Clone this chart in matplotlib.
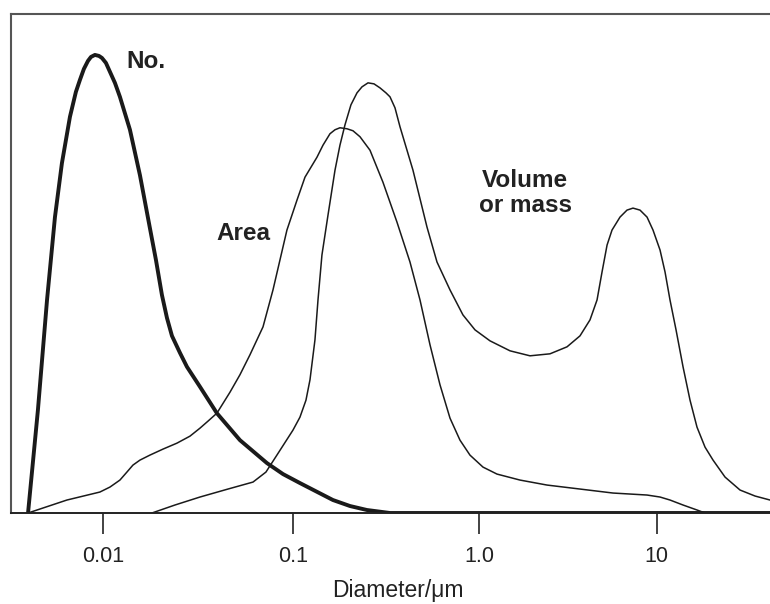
import numpy as np
import matplotlib
matplotlib.use("Agg")
import matplotlib.pyplot as plt

# diameters in micrometres, heights in arbitrary units (0..100)
num_d = [0.00402, 0.00453, 0.00506, 0.00557, 0.00606, 0.00668, 0.00718, 0.00754, 0.00791,
         0.00831, 0.00862, 0.00904, 0.00949, 0.00984, 0.01033, 0.01085, 0.01152, 0.01224,
         0.01382, 0.0156, 0.0176, 0.01894, 0.02036, 0.02164, 0.02299, 0.02533, 0.02757,
         0.03228, 0.03963, 0.0524, 0.0727, 0.0883, 0.1086, 0.1634, 0.2017, 0.2489,
         0.3311, 43.5]
num_h = [0, 20.6, 42.7, 59.3, 70.1, 79.4, 84.4, 86.8, 89.0,
         90.6, 91.4, 91.8, 91.6, 91.2, 90.2, 88.4, 86.2, 83.4,
         76.8, 67.7, 57.1, 50.7, 43.7, 39.1, 35.5, 32.1, 29.3,
         25.3, 20.0, 14.6, 10.0, 7.8, 6.0, 2.6, 1.4, 0.6,
         0, 0]

area_d = [0.00402, 0.00644, 0.0096, 0.01085, 0.01224, 0.01332, 0.01433, 0.0156, 0.0176,
          0.02061, 0.02443, 0.02860, 0.03228, 0.03556, 0.03963, 0.04643, 0.0524, 0.05916,
          0.0693, 0.0782, 0.0851, 0.0926, 0.1047, 0.1156, 0.1341, 0.1444, 0.1575,
          0.1676, 0.1782, 0.1944, 0.2094, 0.2284, 0.2585, 0.3034, 0.3609, 0.4240,
          0.4800, 0.5433, 0.6147, 0.6960, 0.7873, 0.891, 1.049, 1.258, 1.696,
          2.408, 3.695, 5.67, 8.82, 10.44, 11.88, 14.07, 16.87, 18.72]
area_h = [0, 2.6, 4.2, 5.2, 6.6, 8.2, 9.6, 10.6, 11.6,
          12.8, 14.0, 15.4, 17.0, 18.4, 20.0, 24.2, 27.7, 31.7,
          37.3, 44.7, 50.7, 56.7, 62.7, 67.3, 71.3, 73.7, 76.0,
          76.8, 77.2, 77.0, 76.6, 75.4, 72.7, 66.3, 58.3, 50.3,
          42.7, 33.7, 25.7, 19.0, 14.6, 11.6, 9.2, 7.8, 6.6,
          5.6, 4.8, 4.0, 3.6, 3.2, 2.6, 1.6, 0.6, 0]

vol_d = [0.01804, 0.02384, 0.03228, 0.04532, 0.0614, 0.0718, 0.0820, 0.0996, 0.1086,
         0.1170, 0.1230, 0.1308, 0.1358, 0.1426, 0.1537, 0.1676, 0.1782, 0.1897,
         0.2042, 0.2201, 0.2341, 0.2522, 0.2716, 0.2924, 0.3149, 0.3311, 0.3522,
         0.3747, 0.4400, 0.5234, 0.5923, 0.6960, 0.8166, 0.9482, 1.149, 1.490,
         1.931, 2.503, 3.122, 3.695, 4.207, 4.61, 4.918, 5.25, 5.598,
         6.21, 6.80, 7.35, 8.05, 8.82, 9.53, 10.44, 11.14, 11.88,
         12.85, 14.07, 15.41, 16.87, 18.72, 20.77, 24.27, 29.49, 35.83, 43.5]
vol_h = [0, 1.6, 3.2, 4.8, 6.2, 8.2, 11.6, 16.6, 19.2,
         22.6, 26.7, 34.7, 42.7, 51.7, 59.7, 68.7, 73.7, 77.8,
         81.8, 84.2, 85.4, 86.2, 86.0, 85.2, 84.2, 83.4, 81.2,
         77.4, 68.7, 57.3, 50.3, 44.7, 39.7, 36.7, 34.5, 32.5,
         31.5, 31.9, 33.3, 35.5, 38.7, 42.7, 48.3, 53.7, 56.7,
         59.3, 60.7, 61.1, 60.7, 59.3, 56.7, 52.7, 48.3, 42.7,
         36.7, 29.3, 22.6, 17.2, 13.2, 10.6, 7.2, 4.6, 3.4, 2.6]

tick_values = [0.01, 0.1, 1.0, 10]
tick_labels = ["0.01", "0.1", "1.0", "10"]

# the printed log axis is not evenly spaced, so map each decade separately
dec_pos = [103.3, 293.3, 479.3, 656.7]


def fwd(x):
    L = np.log10(np.clip(x, 1e-12, None))
    return np.where(L < -1, dec_pos[0] + (L + 2) * (dec_pos[1] - dec_pos[0]),
           np.where(L < 0, dec_pos[1] + (L + 1) * (dec_pos[2] - dec_pos[1]),
                    dec_pos[2] + L * (dec_pos[3] - dec_pos[2])))


def inv(p):
    p = np.asarray(p, dtype=float)
    return np.where(p < dec_pos[1], 10 ** (-2 + (p - dec_pos[0]) / (dec_pos[1] - dec_pos[0])),
           np.where(p < dec_pos[2], 10 ** (-1 + (p - dec_pos[1]) / (dec_pos[2] - dec_pos[1])),
                    10 ** ((p - dec_pos[2]) / (dec_pos[3] - dec_pos[2]))))


plt.rcParams['font.family'] = ['Liberation Sans', 'DejaVu Sans']

fig = plt.figure(figsize=(7.7, 6.04), dpi=100)
ax = fig.add_axes([11 / 770, 91 / 604, 759 / 770, 499 / 604])
ax.set_xscale('function', functions=(fwd, inv))

ink = '#1a1a1a'
ax.plot(num_d, num_h, color=ink, lw=2.8, solid_joinstyle='round', solid_capstyle='round')
ax.plot(area_d, area_h, color=ink, lw=1.1, solid_joinstyle='round')
ax.plot(vol_d, vol_h, color=ink, lw=1.1, solid_joinstyle='round')

ax.set_xlim(0.00327, 43.5)
ax.set_ylim(0, 100)
ax.set_xticks(tick_values)
ax.set_xticklabels(tick_labels)
ax.minorticks_off()
ax.set_yticks([])
ax.tick_params(axis='x', direction='out', length=15, width=1.2, pad=9,
               labelsize=15.5, colors='#222222')

ax.spines['right'].set_visible(False)
for side in ['top', 'left']:
    ax.spines[side].set_color('#555555')
    ax.spines[side].set_linewidth(1.5)
ax.spines['bottom'].set_color('#222222')
ax.spines['bottom'].set_linewidth(1.4)

lab = dict(fontsize=17.5, fontweight='bold', color='#222222', va='baseline')
ax.text(0.01318, 89.2, 'No.', **lab)
ax.text(0.0392, 54.7, 'Area', **lab)
ax.text(1.81, 65.3, 'Volume', ha='center', **lab)
ax.text(1.81, 60.3, 'or mass', ha='center', **lab)

ax.set_xlabel('Diameter/μm', fontsize=16.5, color='#222222', va='baseline')
ax.xaxis.set_label_coords(397.5 / 770, 7 / 604, transform=fig.transFigure)

fig.savefig('out.png', dpi=100)
